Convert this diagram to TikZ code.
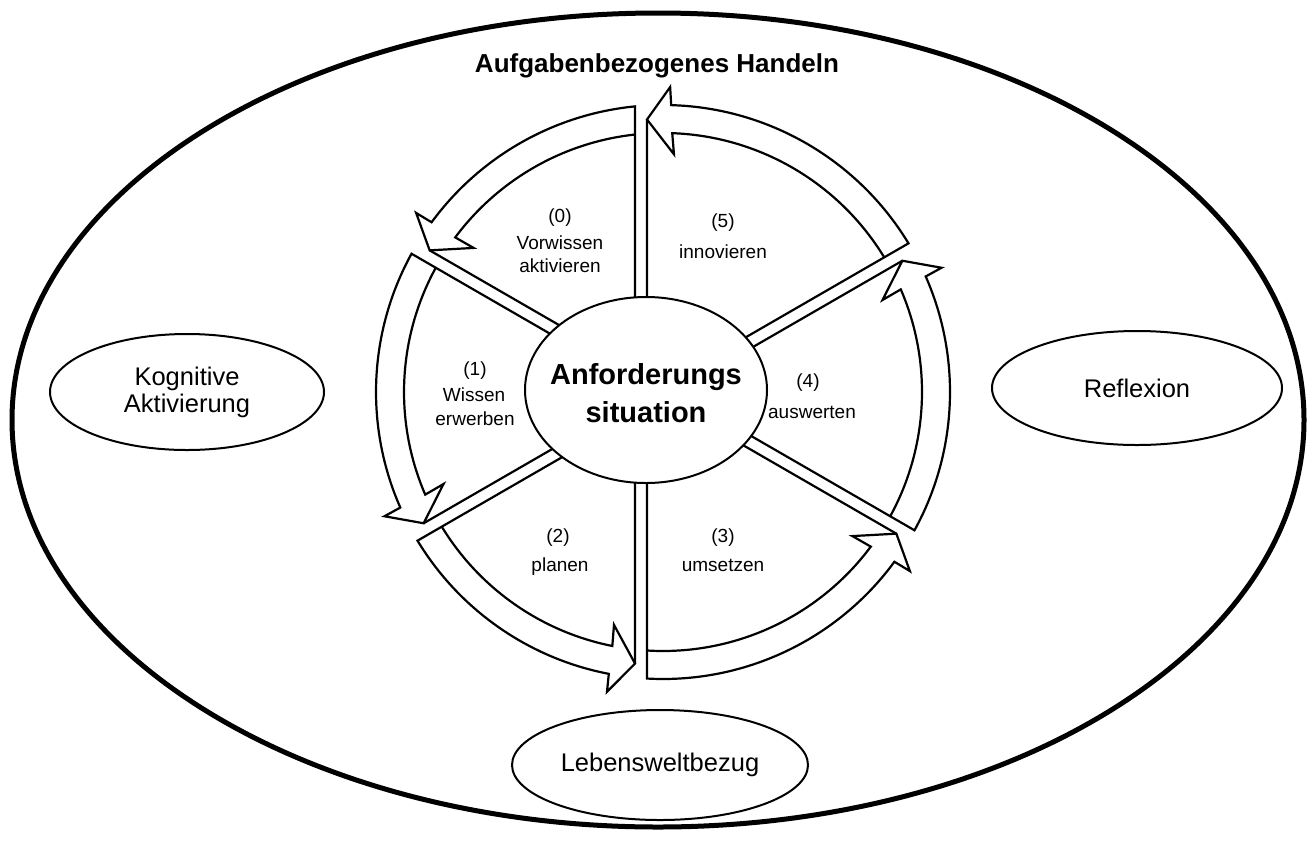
\documentclass[tikz,border=0pt]{standalone}
\usepackage{fontspec}
\setmainfont{Liberation Sans}
\usetikzlibrary{shapes.geometric,calc}
\begin{document}
\begin{tikzpicture}[x=1pt,y=1pt,
  wheel/.style={line width=2.2pt, line join=miter},
  bubble/.style={draw, ellipse, line width=2pt, inner sep=0pt, align=center,
     font=\fontsize{25.5}{27}\selectfont},
  lab/.style={anchor=base, inner sep=0pt, font=\fontsize{19}{22}\selectfont}]
\useasboundingbox (0,0) rectangle (1313,-841);
% outer ellipse
\draw[line width=5pt] (658,-420) ellipse [x radius=646, y radius=407];
% title
\node[anchor=base, inner sep=0pt, font=\bfseries\fontsize{26}{30}\selectfont] (title) at (657,-72) {Aufgabenbezogenes\ Handeln};
% wheel
\begin{scope}[shift={(663,-392)}, wheel]
\foreach \t/\a/\b in {90/28/6,150/6/6,210/6/28,270/-16/6,330/6/6,30/6/-16}{
  \pgfmathsetmacro\so{\t+asin(\a/287)}
  \pgfmathsetmacro\si{\t+asin(\a/259)}
  \pgfmathsetmacro\tip{\t+60-asin(\b/273)}
  \pgfmathsetmacro\base{\tip-5}
  \draw (\t+90:\a) -- (\so:287) arc[start angle=\so, end angle=\base, radius=287]
     -- (\base+0.3:305) -- (\tip:273) -- (\base-1:238) -- (\base-0.4:259)
     arc[start angle=\base-0.4, end angle=\si, radius=259];
  \draw (\t-30:\b) -- (\tip:273);
}
\end{scope}
% central ellipse
\node[draw, ellipse, fill=white, line width=2pt, minimum width=242pt, minimum height=186pt, inner sep=0pt] (sit) at (646,-390) {};
\node[align=center, inner sep=0pt, font=\bfseries\fontsize{29}{38}\selectfont] (sittext) at (646,-393.5) {Anforderungs\\situation};
% sector labels
\node[lab] (l0a) at (560,-222) {(0)};
\node[lab] (l0b) at (560,-249) {Vorwissen};
\node[lab] (l0c) at (560,-272) {aktivieren};
\node[lab] (l5a) at (723,-227) {(5)};
\node[lab] (l5b) at (723,-258) {innovieren};
\node[lab] (l1a) at (475,-375) {(1)};
\node[lab] (l1b) at (474,-401) {Wissen};
\node[lab] (l1c) at (475,-425) {erwerben};
\node[lab] (l4a) at (808,-387) {(4)};
\node[lab] (l4b) at (812,-418) {auswerten};
\node[lab] (l2a) at (558,-542) {(2)};
\node[lab] (l2b) at (560,-571) {planen};
\node[lab] (l3a) at (723,-542) {(3)};
\node[lab] (l3b) at (723,-571) {umsetzen};
% side ellipses
\node[bubble, minimum width=274pt, minimum height=116pt] (kog) at (187,-392) {Kognitive\\Aktivierung};
\node[bubble, minimum width=290pt, minimum height=114pt] (refl) at (1137,-388) {Reflexion};
\node[bubble, minimum width=296pt, minimum height=110pt] (leb) at (660,-765) {Lebensweltbezug};
\end{tikzpicture}
\end{document}
